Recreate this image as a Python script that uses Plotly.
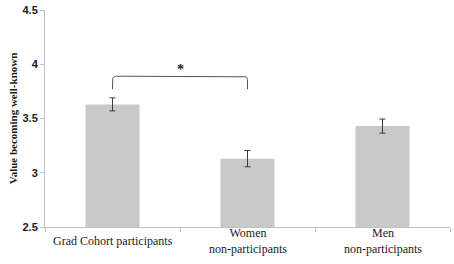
import plotly.graph_objects as go
import numpy as np

categories = ["Grad Cohort participants", "Women<br>non-participants", "Men<br>non-participants"]
values = [3.63, 3.13, 3.43]
errors = [0.06, 0.075, 0.065]
y_ticks = [2.5, 3, 3.5, 4, 4.5]
y_tick_labels = ["2.5", "3", "3.5", "4", "4.5"]

# significance bracket between first two groups
bracket_x = [0, 1]
bracket_low = 3.77
bracket_high = 3.89
star_y = 3.95

xs = list(range(len(categories)))

fig = go.Figure()
fig.add_trace(go.Bar(
    x=xs, y=values, width=0.4,
    marker=dict(color="#c9c9c9", line=dict(width=0)),
    error_y=dict(type="data", array=errors, visible=True, color="#3a3a3a", thickness=1, width=3),
    base=0,
))

# bracket with slightly rounded corners
r_x = 0.03
r_y = 0.03
a = np.linspace(0, np.pi / 2, 6)
bx = [bracket_x[0]]
by = [bracket_low]
for t in a:
    bx.append(bracket_x[0] + r_x - r_x * np.cos(t))
    by.append(bracket_high - r_y + r_y * np.sin(t))
for t in a[::-1]:
    bx.append(bracket_x[1] - r_x + r_x * np.cos(t))
    by.append(bracket_high - r_y + r_y * np.sin(t))
bx.append(bracket_x[1])
by.append(bracket_low)
fig.add_trace(go.Scatter(x=bx, y=by, mode="lines", line=dict(color="#555555", width=1),
                         hoverinfo="skip"))

fig.add_annotation(x=(bracket_x[0] + bracket_x[1]) / 2, y=star_y, text="<b>*</b>",
                   showarrow=False, font=dict(family="Liberation Serif", size=14, color="#222"))

# category labels, vertically centred under the axis
for xi, lab in zip(xs, categories):
    fig.add_annotation(x=xi, y=0, xref="x", yref="paper", yanchor="middle", yshift=-14,
                       text=lab, showarrow=False,
                       font=dict(family="Liberation Serif", size=12, color="#1a1a1a"))

fig.update_layout(
    width=454, height=264,
    margin=dict(l=45, r=4, t=10, b=37),
    paper_bgcolor="white", plot_bgcolor="white",
    showlegend=False,
    font=dict(family="Liberation Serif", size=12, color="#1a1a1a"),
)
fig.update_xaxes(
    range=[-0.5, 2.5], tickvals=xs, ticktext=["", "", ""], ticks="",
    showline=True, linecolor="#bfbfbf", linewidth=1, showgrid=False, zeroline=False,
    minor=dict(tick0=0.5, dtick=1, ticks="outside", ticklen=4, tickcolor="#bfbfbf", showgrid=False),
)
fig.update_yaxes(
    range=[2.5, 4.5], tickvals=y_ticks, ticktext=y_tick_labels,
    ticks="outside", ticklen=4, tickcolor="#bfbfbf",
    showline=True, linecolor="#bfbfbf", linewidth=1, showgrid=False, zeroline=False,
    tickfont=dict(family="Liberation Sans", size=11, color="#1a1a1a", weight="bold"),
    title=dict(text="<b>Value becoming well-known</b>", standoff=2,
               font=dict(family="Liberation Serif", size=11, color="#1a1a1a")),
)

fig.write_html("out.html", config={"displayModeBar": False},
               post_script="document.body.style.margin='0';")
